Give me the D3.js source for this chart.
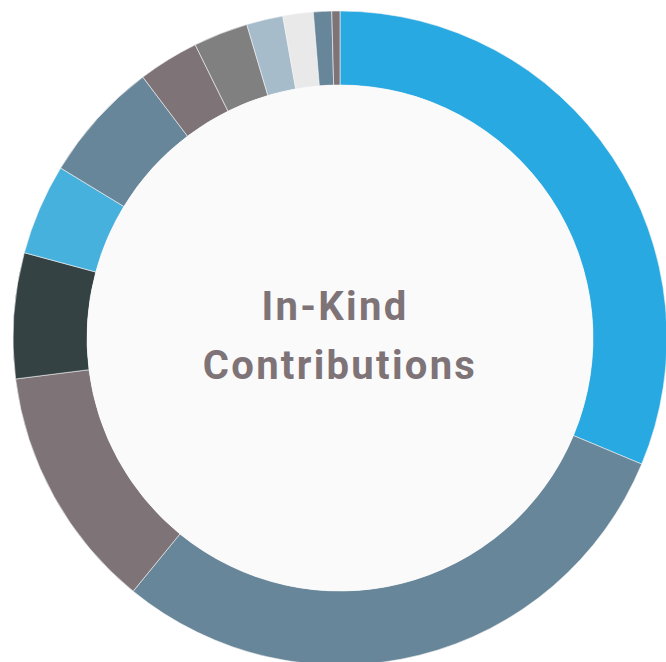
<!DOCTYPE html>
<html>
<head>
<meta charset="utf-8">
<script src="https://cdn.jsdelivr.net/npm/d3@7"></script>
<style>
  html, body { margin: 0; padding: 0; background: #fff; }
</style>
</head>
<body>
<div class="d3-chart"></div>
<script>
const width = 666;
const height = 662;
const center = {x: 340, y: 338};
const outerR = 327;
const innerR = 253;

// slices, clockwise from 12 o'clock (share in percent)
const categories = ["A", "B", "C", "D", "E", "F", "G", "H", "I", "J", "K", "L"];
const values = [31.3, 29.6, 12.1, 6.2, 4.5, 6.0, 3.0, 2.7, 1.8, 1.5, 0.9, 0.4];
const colors = ["#29a9e1", "#67869a", "#7e7377", "#354243", "#47b1de", "#67869a",
                "#7e7377", "#808080", "#a6bccb", "#e9e9e9", "#67869a", "#7e7377"];
const titleLines = ["In-Kind", "Contributions"];

const data = categories.map((c, i) => ({name: c, value: values[i], color: colors[i]}));

const svg = d3.select(".d3-chart")
  .append("svg")
  .attr("width", width)
  .attr("height", height);

const g = svg.append("g")
  .attr("transform", `translate(${center.x}, ${center.y})`);

const pie = d3.pie()
  .sort(null)
  .value(d => d.value);

const arc = d3.arc()
  .innerRadius(innerR)
  .outerRadius(outerR);

g.selectAll("path")
  .data(pie(data))
  .join("path")
  .attr("d", arc)
  .attr("fill", d => d.data.color)
  .attr("stroke", "#f4f4f4")
  .attr("stroke-width", 0.6);

// light inner disc
g.append("circle")
  .attr("r", innerR)
  .attr("fill", "#fafafa");

g.selectAll("text.title")
  .data(titleLines)
  .join("text")
  .attr("class", "title")
  .attr("x", (d, i) => i === 0 ? -5 : 0)
  .attr("y", (d, i) => -18 + i * 59)
  .attr("text-anchor", "middle")
  .attr("font-family", "Roboto, sans-serif")
  .attr("font-weight", 700)
  .attr("font-size", 40)
  .attr("letter-spacing", 2.3)
  .attr("fill", "#7e7377")
  .text(d => d);
</script>
</body>
</html>
